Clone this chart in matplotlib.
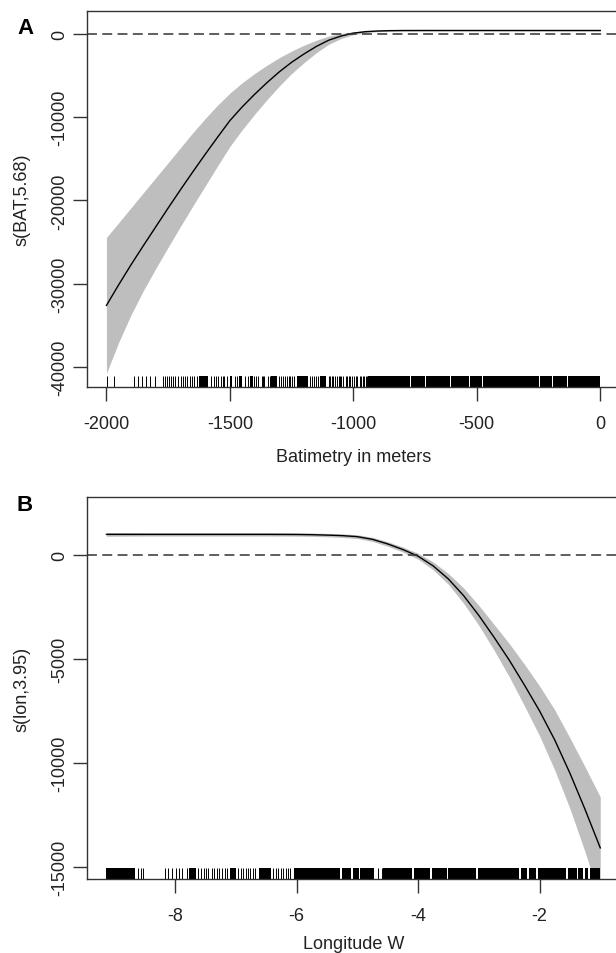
"""
GAM partial effects: bathymetry (A) and longitude (B)
"""

import matplotlib
matplotlib.use("Agg")
import matplotlib.pyplot as plt

plt.rcParams["font.family"] = ["Liberation Sans", "DejaVu Sans"]
plt.rcParams["axes.unicode_minus"] = False

# --- panel A: s(BAT,5.68) ---
bat_x = [-2000, -1950, -1900, -1850, -1800, -1750, -1700, -1650, -1600, -1550,
         -1500, -1450, -1400, -1350, -1300, -1250, -1200, -1150, -1100, -1050,
         -1000, -950, -900, -850, -800, -700, -600, -400, -200, 0]
bat_fit = [-32600, -30100, -27700, -25400, -23150, -20900, -18700, -16550, -14450, -12400,
           -10400, -8750, -7250, -5850, -4550, -3400, -2400, -1500, -750, -250,
           100, 280, 360, 400, 415, 420, 420, 420, 420, 420]
bat_upper = [-24450, -22650, -20850, -19050, -17250, -15450, -13650, -11850, -10150, -8550,
             -7100, -5850, -4750, -3750, -2850, -2050, -1350, -750, -250, 50,
             280, 390, 440, 470, 475, 480, 480, 480, 480, 480]
bat_lower = [-40750, -37000, -33700, -30800, -28150, -25600, -23100, -20650, -18250, -15850,
             -13500, -11500, -9650, -7900, -6250, -4750, -3450, -2250, -1250, -550,
             -80, 170, 280, 330, 355, 360, 360, 360, 360, 360]
bat_ticks = [-2000, -1500, -1000, -500, 0]
bat_yticks = [0, -10000, -20000, -30000, -40000]

bat_rug = [-1997, -1970, -1888, -1872, -1857, -1840, -1822, -1805, -1770, -1762,
           -1755, -1748, -1740, -1732, -1722, -1712, -1700, -1688, -1680, -1672,
           -1660, -1652, -1645, -1632, -1575, -1566, -1558, -1548, -1535, -1528,
           -1522, -1510, -1480, -1472, -1465, -1440, -1428, -1420, -1402, -1395,
           -1388, -1372, -1365, -1360, -1345, -1338, -1300, -1292, -1285, -1278,
           -1270, -1262, -1255, -1248, -1240, -1175, -1168, -1160, -1152, -1145,
           -1100, -1094, -1088, -1082, -1075, -1068, -1060, -1054, -1048, -1040,
           -1030, -1024, -1018, -1012, -1005, -998, -990, -984, -975, -968,
           -962, -956, -950, -945]
bat_rug_blocks = [(-1625, -1590), (-1462, -1450), (-1500, -1490), (-1420, -1408),
                  (-1335, -1310), (-1230, -1185), (-1135, -1110), (-940, -770),
                  (-766, -710), (-706, -610), (-606, -530), (-526, -478),
                  (-474, -248), (-244, -194), (-190, -134), (-130, -2)]

# --- panel B: s(lon,3.95) ---
lon_x = [-9.13, -8.5, -8, -7.5, -7, -6.5, -6, -5.75, -5.5, -5.25, -5.0, -4.75, -4.5,
         -4.25, -4.0, -3.75, -3.5, -3.25, -3.0, -2.75, -2.5, -2.25, -2.0, -1.75,
         -1.5, -1.25, -1.0]
lon_fit = [1000, 1000, 1000, 1000, 1000, 1000, 995, 985, 965, 940, 890, 760, 540,
           270, -50, -520, -1150, -1950, -2900, -3950, -5050, -6250, -7500, -8900,
           -10500, -12250, -14100]
lon_upper = [1090, 1080, 1080, 1080, 1080, 1080, 1075, 1065, 1045, 1025, 980, 860, 650,
             390, 90, -330, -890, -1580, -2420, -3330, -4250, -5250, -6300, -7450,
             -8800, -10200, -11650]
lon_lower = [910, 920, 920, 920, 920, 920, 915, 905, 885, 855, 800, 660, 430,
             150, -190, -710, -1410, -2320, -3380, -4570, -5850, -7250, -8700, -10350,
             -12200, -14300, -16550]
lon_ticks = [-8, -6, -4, -2]
lon_yticks = [0, -5000, -10000, -15000]

lon_rug = [-8.61, -8.56, -8.52, -8.17, -8.12, -8.05, -7.99, -7.93, -7.88, -7.81,
           -7.62, -7.57, -7.53, -7.49, -7.45, -7.40, -7.36, -7.31, -7.27, -7.22,
           -7.18, -7.14, -6.96, -6.92, -6.88, -6.84, -6.80, -6.76, -6.72, -6.68,
           -6.38, -6.34, -6.30, -6.26, -6.22, -6.18, -6.14, -6.10, -4.66, -4.60]
lon_rug_blocks = [(-9.13, -8.66), (-7.77, -7.66), (-7.10, -7.00), (-6.62, -6.42),
                  (-6.05, -5.28), (-5.25, -5.10), (-5.07, -4.98), (-4.95, -4.72),
                  (-4.57, -4.10), (-4.07, -3.80), (-3.77, -3.53), (-3.50, -3.04),
                  (-3.01, -2.33), (-2.30, -2.21), (-2.18, -2.05), (-2.02, -1.56),
                  (-1.53, -1.39), (-1.36, -1.28), (-1.25, -1.20), (-1.17, -1.00)]

W, H = 616, 954
fig = plt.figure(figsize=(W / 100, H / 100), dpi=100)


def panel(rect, x, fit, up, lo, rug, blocks, xlim, ylim, xt, yt, xlab, ylab, letter, ly, lety):
    l, t, r, b = rect
    ax = fig.add_axes([l / W, 1 - b / H, (r - l) / W, (b - t) / H])
    ax.fill_between(x, lo, up, color="#bebebe", lw=0)
    ax.plot(x, fit, color="black", lw=1.0)
    ax.axhline(0, color="#333333", lw=1.1, ls=(0, (6.5, 3.5)))
    ax.vlines(rug, 0, 0.03, transform=ax.get_xaxis_transform(), colors="black", lw=0.7)
    for a, c in blocks:
        ax.axvspan(a, c, ymin=0, ymax=0.03, color="black", lw=0)
    ax.set_xlim(*xlim)
    ax.set_ylim(*ylim)
    ax.set_xticks(xt)
    ax.set_yticks(yt)
    ax.set_xticklabels([str(v) for v in xt])
    ax.set_yticklabels([str(v) for v in yt])
    for sp in ax.spines.values():
        sp.set_color("#333333")
        sp.set_linewidth(1.0)
    ax.tick_params(direction="out", length=10, width=1.0, color="#333333",
                   labelsize=13, labelcolor="#222222")
    ax.tick_params(axis="x", pad=10)
    ax.tick_params(axis="y", pad=3)
    for lab in ax.get_yticklabels():
        lab.set_rotation(90)
        lab.set_va("center")
    ax.set_xlabel(xlab, fontsize=13, color="#222222", va="center")
    ax.set_ylabel(ylab, fontsize=13, color="#222222", va="center")
    ax.xaxis.set_label_coords(0.5, ly)
    ax.yaxis.set_label_coords((22 - l) / (r - l), 0.5)
    fig.text(25 / W, 1 - lety / H, letter, fontsize=16, fontweight="bold",
             ha="center", va="center")
    return ax


panel((86.7, 12, 620, 388), bat_x, bat_fit, bat_upper, bat_lower, bat_rug, bat_rug_blocks,
      (-2080, 80), (-42400, 2760), bat_ticks, bat_yticks,
      "Batimetry in meters", "s(BAT,5.68)", "A", (388 - 458) / 376, 28)

panel((86.7, 498, 620, 880), lon_x, lon_fit, lon_upper, lon_lower, lon_rug, lon_rug_blocks,
      (-9.455, -0.675), (-15600, 2800), lon_ticks, lon_yticks,
      "Longitude W", "s(lon,3.95)", "B", (880 - 945) / 382, 506)

fig.savefig("out.png", dpi=100)
